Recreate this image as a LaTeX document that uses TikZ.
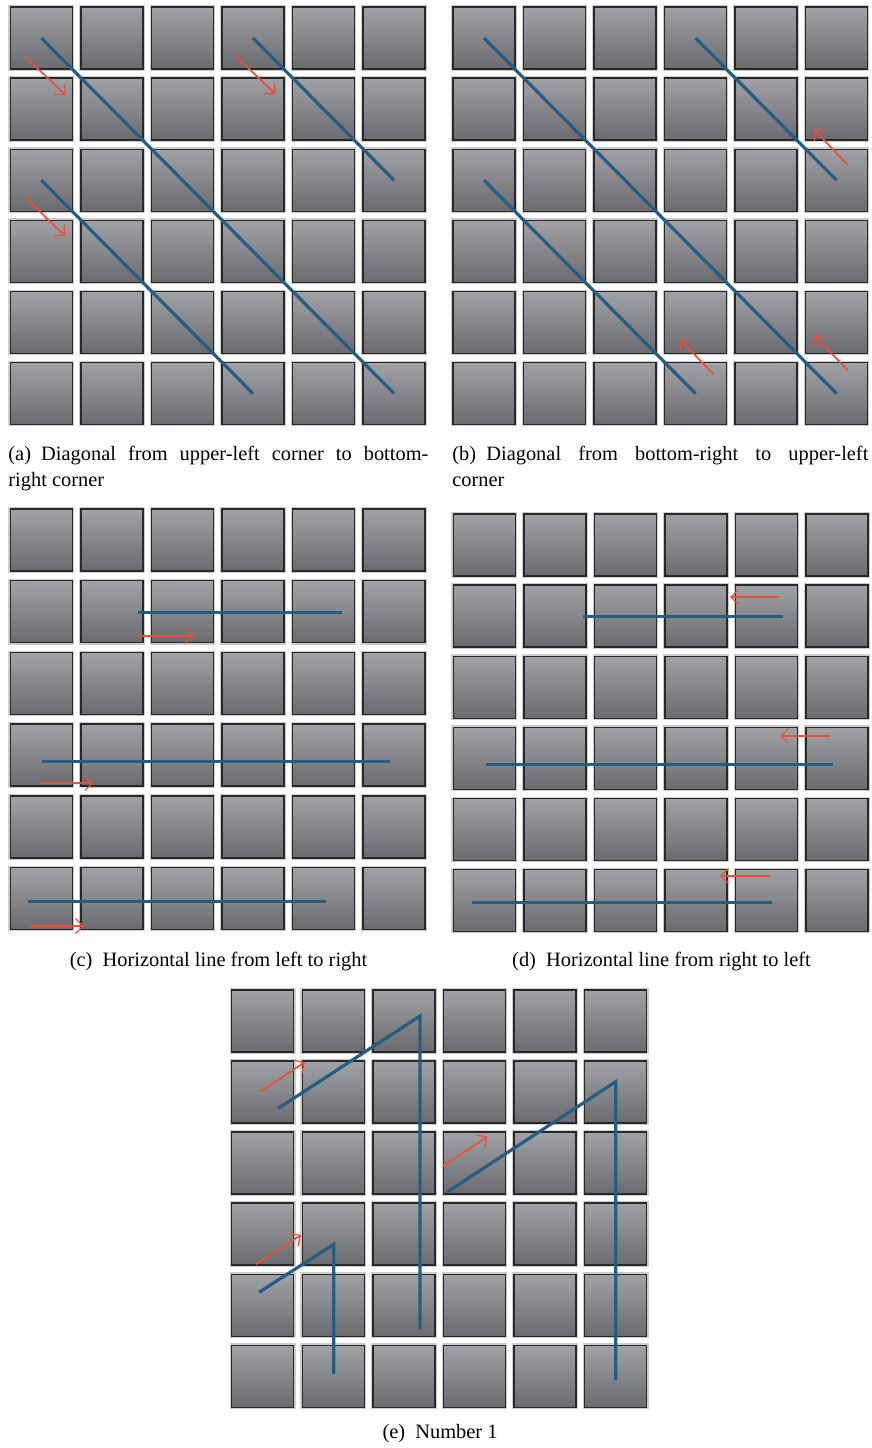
\documentclass[tikz,border=0pt]{standalone}
\usepackage{fontspec}
\setmainfont{Liberation Serif}
\usetikzlibrary{arrows.meta}
\definecolor{sqtop}{RGB}{161,162,166}
\definecolor{sqmid}{RGB}{147,148,152}
\definecolor{sqbot}{RGB}{106,107,111}
\definecolor{sqedge}{RGB}{40,40,40}
\definecolor{sqhalo}{RGB}{205,205,205}
\definecolor{pathblue}{RGB}{38,93,130}
\definecolor{arrred}{RGB}{232,80,58}
\tikzset{
  sq/.style={rectangle, minimum width=31pt, minimum height=31pt, inner sep=0pt,
    draw=sqedge, line width=0.7pt, top color=sqtop, middle color=sqmid, bottom color=sqbot,
    preaction={draw=sqhalo, line width=1.9pt}},
  bl/.style={draw=pathblue, line width=1.6pt},
  ar/.style={draw=arrred, line width=0.85pt, -{Straight Barb[length=3.8pt,width=7.5pt,line width=0.6pt]}},
  arh/.style={ar, line width=1pt},
  captext/.style={inner sep=0pt, font=\fontsize{10.2pt}{13pt}\selectfont},
}
\newcommand\mkgrid[5]{%
  \foreach \i in {0,...,5}{\foreach \j in {0,...,5}{
    \node[sq] (#1-\i-\j) at ({#2+31+\i*#4},{#3+31+\j*#5}) {};}}}
\begin{document}
\begin{tikzpicture}[x=0.5pt,y=-0.5pt]
\useasboundingbox (0,0) rectangle (872,1448);
% grids
\mkgrid{a}{10.3}{7}{70.55}{71.1}
\mkgrid{b}{453}{7}{70.5}{71.1}
\mkgrid{c}{10.3}{509}{70.55}{71.7}
\mkgrid{d}{453.3}{514}{70.55}{71.1}
\mkgrid{e}{231.7}{990}{70.6}{71.06}
% (a)
\draw[bl] (a-0-0.center) -- (a-5-5.center);
\draw[bl] (a-3-0.center) -- (a-5-2.center);
\draw[bl] (a-0-2.center) -- (a-3-5.center);
\coordinate (aa1) at (25.7,57.3);  \coordinate (aa1e) at (65.7,95);
\coordinate (aa2) at (235.5,56);   \coordinate (aa2e) at (275.5,94);
\coordinate (aa3) at (25,197.3);   \coordinate (aa3e) at (65,236);
\draw[ar] (aa1) -- (aa1e);
\draw[ar] (aa2) -- (aa2e);
\draw[ar] (aa3) -- (aa3e);
% (b)
\draw[bl] (b-0-0.center) -- (b-5-5.center);
\draw[bl] (b-3-0.center) -- (b-5-2.center);
\draw[bl] (b-0-2.center) -- (b-3-5.center);
\coordinate (ba1) at (713.3,374);  \coordinate (ba1e) at (679.7,339.3);
\coordinate (ba2) at (847.7,370.3);\coordinate (ba2e) at (814.3,335.3);
\coordinate (ba3) at (847.7,165);  \coordinate (ba3e) at (814,129.5);
\draw[ar] (ba1) -- (ba1e);
\draw[ar] (ba2) -- (ba2e);
\draw[ar] (ba3) -- (ba3e);
% (c)
\coordinate (cl1s) at (138,612.3);  \coordinate (cl1e) at (341.7,612.3);
\coordinate (cl2s) at (42,761.7);   \coordinate (cl2e) at (390,761.7);
\coordinate (cl3s) at (27.7,901.3); \coordinate (cl3e) at (326,901.3);
\draw[bl] (cl1s) -- (cl1e);
\draw[bl] (cl2s) -- (cl2e);
\draw[bl] (cl3s) -- (cl3e);
\coordinate (ca1) at (138,636);  \coordinate (ca1e) at (193.3,636);
\coordinate (ca2) at (39,783);   \coordinate (ca2e) at (93.3,783);
\coordinate (ca3) at (30,926);   \coordinate (ca3e) at (84,926);
\draw[arh] (ca1) -- (ca1e);
\draw[arh] (ca2) -- (ca2e);
\draw[arh] (ca3) -- (ca3e);
% (d)
\coordinate (dl1s) at (783.3,616.7); \coordinate (dl1e) at (583.3,616.7);
\coordinate (dl2s) at (832.7,764.7); \coordinate (dl2e) at (486,764.7);
\coordinate (dl3s) at (772.3,902.7); \coordinate (dl3e) at (471.7,902.7);
\draw[bl] (dl1s) -- (dl1e);
\draw[bl] (dl2s) -- (dl2e);
\draw[bl] (dl3s) -- (dl3e);
\coordinate (da1) at (779.3,597); \coordinate (da1e) at (730,597);
\coordinate (da2) at (830,736);   \coordinate (da2e) at (780,736);
\coordinate (da3) at (770,876);   \coordinate (da3e) at (720,876);
\draw[arh] (da1) -- (da1e);
\draw[arh] (da2) -- (da2e);
\draw[arh] (da3) -- (da3e);
% (e)
\coordinate (e1s) at (278.3,1108.3); \coordinate (e1m) at (420,1016); \coordinate (e1e) at (420,1329.3);
\coordinate (e2s) at (446.7,1192.3); \coordinate (e2m) at (615.7,1081.7); \coordinate (e2e) at (615.7,1380);
\coordinate (e3s) at (259,1292.3);   \coordinate (e3m) at (333.7,1244.3); \coordinate (e3e) at (333.7,1374);
\draw[bl] (e1s) -- (e1m) -- (e1e);
\draw[bl] (e2s) -- (e2m) -- (e2e);
\draw[bl] (e3s) -- (e3m) -- (e3e);
\coordinate (ea1) at (260,1091.7);   \coordinate (ea1e) at (305,1062);
\coordinate (ea2) at (442.7,1166);   \coordinate (ea2e) at (487.7,1136.7);
\coordinate (ea3) at (256,1264.3);   \coordinate (ea3e) at (301,1235);
\draw[ar] (ea1) -- (ea1e);
\draw[ar] (ea2) -- (ea2e);
\draw[ar] (ea3) -- (ea3e);
% captions
\node[captext, anchor=base west, text width=210pt, align=justify] (capa) at (8,460)
  {(a)\enspace Diagonal from upper-left corner to bottom-\linebreak right corner};
\node[captext, anchor=base west, text width=208pt, align=justify] (capb) at (452,460)
  {(b)\enspace Diagonal from bottom-right to upper-left\linebreak corner};
\node[captext] (capc) at (218.5,962) {(c)\enspace Horizontal line from left to right};
\node[captext] (capd) at (661.5,962) {(d)\enspace Horizontal line from right to left};
\node[captext] (cape) at (440,1434) {(e)\enspace Number 1};
\end{tikzpicture}
\end{document}
